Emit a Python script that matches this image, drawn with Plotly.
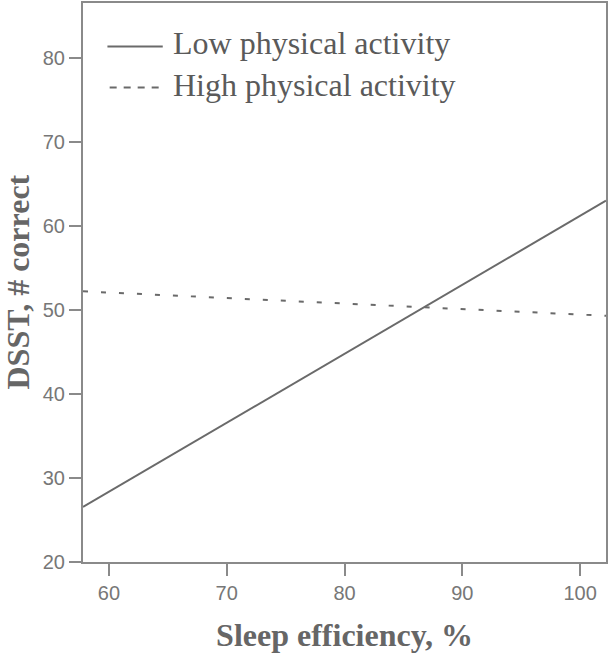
import plotly.graph_objects as go

# Data
sleep_eff = [57.8, 102.2]
low_pa = [26.55, 62.98]
high_pa = [52.2, 49.29]
series_names = ["Low physical activity", "High physical activity"]
x_ticks = [60, 70, 80, 90, 100]
y_ticks = [20, 30, 40, 50, 60, 70, 80]

line_col = "#6a6a6a"
axis_col = "#8a8a8a"
text_col = "#5a5a5a"
title_col = "#666666"

fig = go.Figure()
fig.add_trace(go.Scatter(x=sleep_eff, y=low_pa, mode="lines",
                         name=series_names[0], showlegend=False,
                         line=dict(color=line_col, width=2)))
fig.add_trace(go.Scatter(x=sleep_eff, y=high_pa, mode="lines",
                         name=series_names[1], showlegend=False,
                         line=dict(color=line_col, width=2, dash="5px,13px")))

# Legend drawn as keys + labels (paper coordinates)
legend_rows = [(0.922, 0.929, "solid"), (0.849, 0.854, "7px,7px")]
for (yl, yt, dash), name, x0, x1 in zip(legend_rows, series_names,
                                        [0.0467, 0.051], [0.1525, 0.147]):
    fig.add_shape(type="line", xref="paper", yref="paper",
                  x0=x0, x1=x1, y0=yl, y1=yl,
                  line=dict(color=line_col, width=2, dash=dash))
    fig.add_annotation(xref="paper", yref="paper", x=0.169, y=yt,
                       xanchor="left", yanchor="middle", showarrow=False,
                       text=name,
                       font=dict(family="Liberation Serif", size=32, color=text_col))

# Y-axis title placed in the left margin
fig.add_annotation(xref="paper", yref="paper", x=0, y=0.5, xshift=-66,
                   xanchor="center", yanchor="middle", showarrow=False,
                   textangle=-90, text="<b>DSST, # correct</b>",
                   font=dict(family="Liberation Serif", size=32, color=title_col))

fig.update_layout(
    width=609, height=653,
    margin=dict(l=83, r=3, t=3, b=91),
    plot_bgcolor="white", paper_bgcolor="white",
    showlegend=False,
    xaxis=dict(range=[sleep_eff[0], sleep_eff[1]], tickvals=x_ticks,
               showgrid=False, zeroline=False, automargin=False,
               showline=True, mirror=True, linecolor=axis_col, linewidth=2,
               ticks="outside", ticklen=12, tickwidth=2, tickcolor=axis_col,
               tickfont=dict(family="Liberation Sans", size=20, color="#777777"),
               title=dict(text="<b>Sleep efficiency, %</b>", standoff=30,
                          font=dict(family="Liberation Serif", size=32, color=title_col))),
    yaxis=dict(range=[20, 86.5], tickvals=y_ticks,
               showgrid=False, zeroline=False, automargin=False,
               showline=True, mirror=True, linecolor=axis_col, linewidth=2,
               ticks="outside", ticklen=12, tickwidth=2, tickcolor=axis_col,
               tickfont=dict(family="Liberation Sans", size=20, color="#777777")),
)

fig.write_html("out.html", config={"displayModeBar": False},
               post_script="document.body.style.margin='0';")
